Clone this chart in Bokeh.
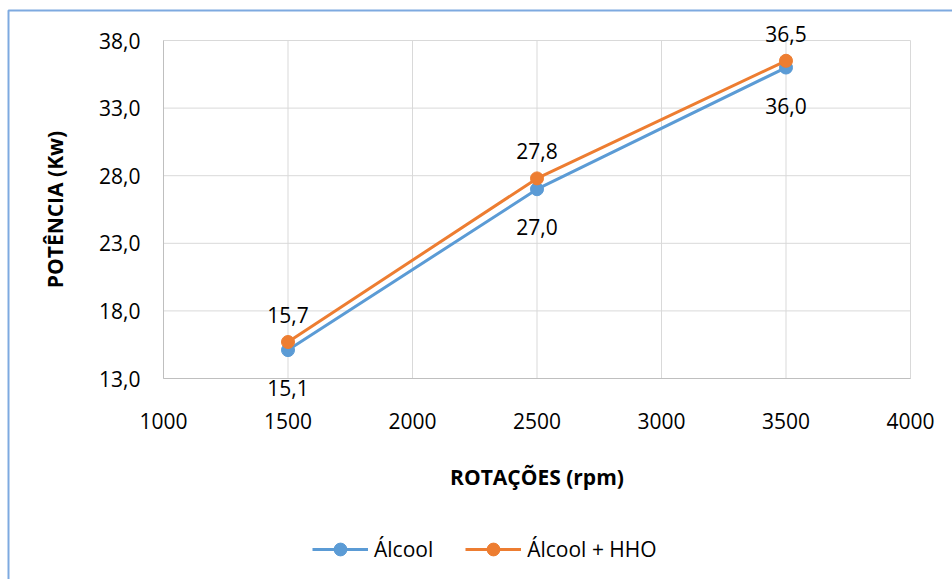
from bokeh.plotting import figure
from bokeh.models import (FixedTicker, Range1d, ColumnDataSource, Legend, LegendItem,
                          BoxAnnotation)
from bokeh.core.properties import value
from bokeh.embed import file_html
from bokeh.resources import INLINE

rpm = [1500, 2500, 3500]
alcool = [15.1, 27.0, 36.0]
alcool_hho = [15.7, 27.8, 36.5]
x_ticks = [1000, 1500, 2000, 2500, 3000, 3500, 4000]
y_ticks = [13, 18, 23, 28, 33, 38]
series_names = ["Álcool", "Álcool + HHO"]
x_title = "ROTAÇÕES (rpm)"
y_title = "POTÊNCIA (Kw)"

BLUE = "#5B9BD5"
ORANGE = "#ED7D31"
FONT = "Open Sans"
FS = "21px"

# page geometry (pixels): the whole canvas is the frame, plot area inside it
W, H = 952, 579
PA_LEFT, PA_RIGHT, PA_TOP, PA_BOTTOM = 163, 910, 40, 378
kx = (PA_RIGHT - PA_LEFT) / (x_ticks[-1] - x_ticks[0])
ky = (PA_BOTTOM - PA_TOP) / (y_ticks[-1] - y_ticks[0])
x_start = x_ticks[0] - PA_LEFT / kx
x_end = x_ticks[-1] + (W - PA_RIGHT) / kx
y_end = y_ticks[-1] + PA_TOP / ky
y_start = y_ticks[0] - (H - PA_BOTTOM) / ky


def fmt(v):
    return f"{v:.1f}".replace(".", ",")


p = figure(width=W, height=H, output_backend="svg", toolbar_location=None,
           x_range=Range1d(x_start, x_end), y_range=Range1d(y_start, y_end),
           min_border=0)
p.outline_line_color = None
p.background_fill_color = "white"
p.border_fill_color = "white"
p.grid.visible = False
p.title.visible = False

# grid lines limited to the plot area
nx, ny = len(x_ticks), len(y_ticks)
p.segment(x0=x_ticks, y0=[y_ticks[0]] * nx, x1=x_ticks, y1=[y_ticks[-1]] * nx,
          line_color="#D9D9D9", line_width=1)
p.segment(x0=[x_ticks[0]] * ny, y0=y_ticks, x1=[x_ticks[-1]] * ny, y1=y_ticks,
          line_color="#D9D9D9", line_width=1)

p.xaxis.ticker = FixedTicker(ticks=x_ticks)
p.yaxis.ticker = FixedTicker(ticks=y_ticks)
p.xaxis.fixed_location = y_ticks[0]
p.yaxis.fixed_location = x_ticks[0]
p.xaxis.bounds = (x_ticks[0], x_ticks[-1])
p.yaxis.bounds = (y_ticks[0], y_ticks[-1])
p.yaxis.major_label_overrides = {t: fmt(t) for t in y_ticks}
for ax in (p.xaxis, p.yaxis):
    ax.axis_line_color = "#BFBFBF"
    ax.axis_line_width = 1
    ax.major_tick_line_color = None
    ax.minor_tick_line_color = None
    ax.major_tick_out = 0
    ax.major_tick_in = 0
    ax.major_label_text_font = FONT
    ax.major_label_text_font_size = FS
    ax.major_label_text_color = "#000000"
    ax.axis_label_text_font = FONT
    ax.axis_label_text_font_size = FS
    ax.axis_label_text_font_style = "bold"
    ax.axis_label_text_color = "#000000"
p.xaxis.major_label_standoff = 34
p.yaxis.major_label_standoff = 23
p.xaxis.axis_label = x_title
p.yaxis.axis_label = y_title
p.xaxis.axis_label_standoff = 31
p.yaxis.axis_label_standoff = 27

src_a = ColumnDataSource(dict(x=rpm, y=alcool, lab=[fmt(v) for v in alcool]))
src_h = ColumnDataSource(dict(x=rpm, y=alcool_hho, lab=[fmt(v) for v in alcool_hho]))

la = p.line("x", "y", source=src_a, line_color=BLUE, line_width=3)
sa = p.scatter("x", "y", source=src_a, size=13, fill_color=BLUE, line_color=BLUE)
lh = p.line("x", "y", source=src_h, line_color=ORANGE, line_width=3)
sh = p.scatter("x", "y", source=src_h, size=13, fill_color=ORANGE, line_color=ORANGE)

p.text("x", "y", text="lab", source=src_a, text_align="center", text_baseline="middle",
       y_offset=38, text_font=value(FONT), text_font_size=FS, text_color="#000000")
p.text("x", "y", text="lab", source=src_h, text_align="center", text_baseline="middle",
       y_offset=-27, text_font=value(FONT), text_font_size=FS, text_color="#000000")

legend = Legend(items=[LegendItem(label=series_names[0], renderers=[la, sa]),
                       LegendItem(label=series_names[1], renderers=[lh, sh])],
                orientation="horizontal", location=(312, 14),
                label_text_font=FONT, label_text_font_size=FS,
                label_text_color="#000000", glyph_width=56, glyph_height=32,
                label_height=20, label_standoff=6, spacing=32, padding=5, margin=0,
                border_line_color=None, background_fill_alpha=0)
p.add_layout(legend, "center")

chart_border = BoxAnnotation(left=8, right=W + 50, top=H - 10, bottom=-50,
                             left_units="screen", right_units="screen",
                             top_units="screen", bottom_units="screen",
                             fill_alpha=0, line_color="#7EAAE0", line_alpha=1.0,
                             line_width=2, level="overlay")
p.add_layout(chart_border)

open("out.html", "w").write(file_html(p, INLINE))
